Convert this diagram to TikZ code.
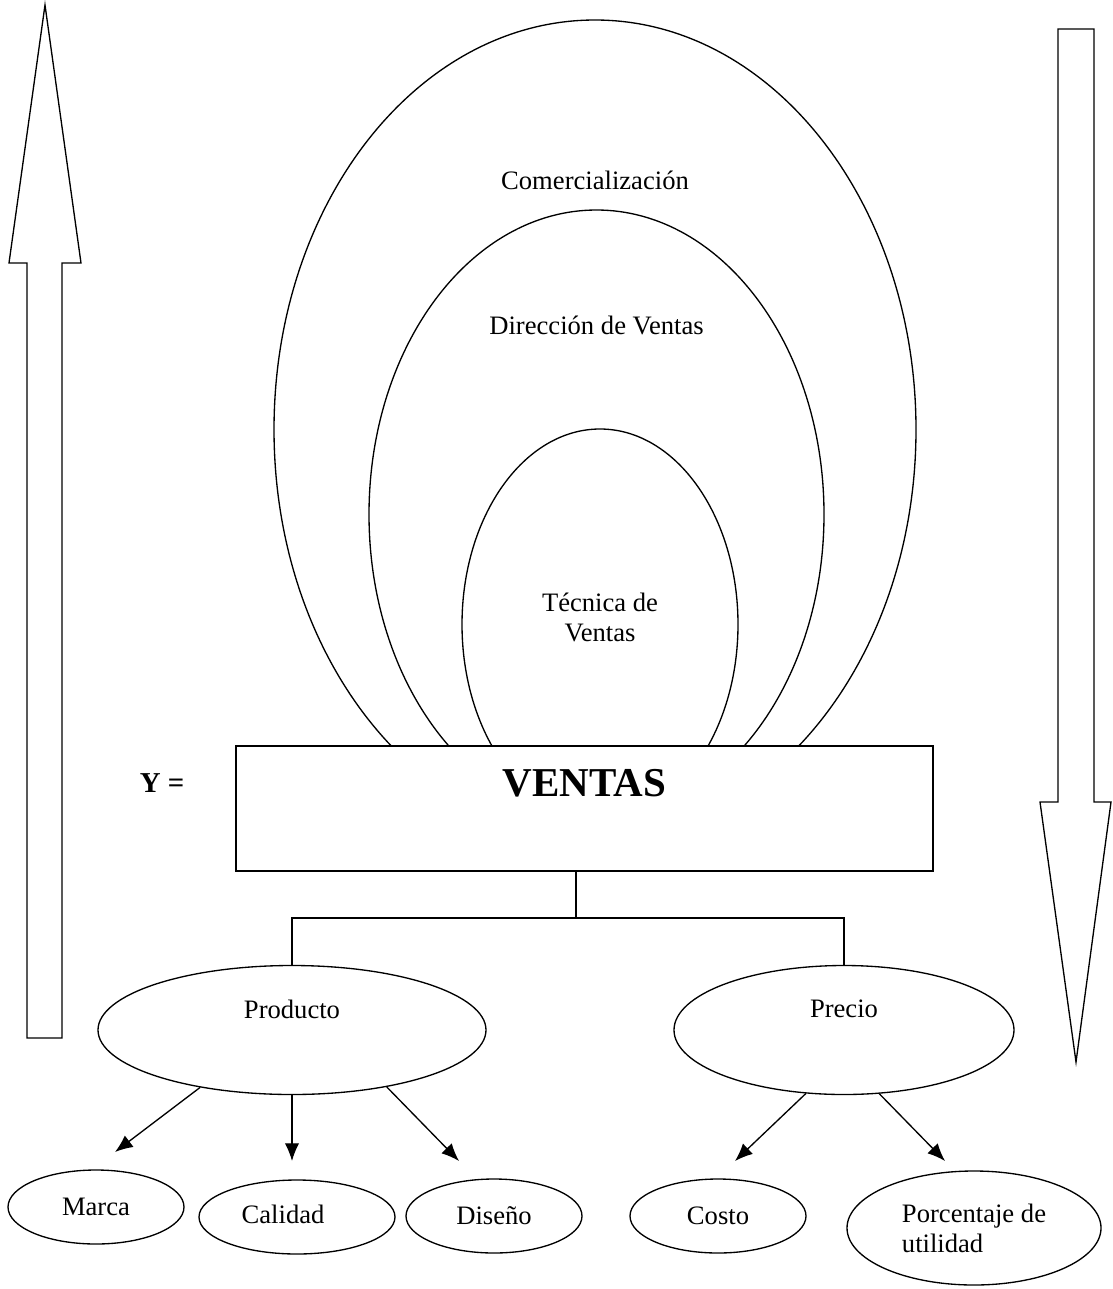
\documentclass[tikz,border=0pt]{standalone}
\usepackage{fontspec}
\setmainfont{Liberation Serif}
\usetikzlibrary{shapes.geometric,arrows.meta}

\begin{document}
\begin{tikzpicture}[x=0.451pt, y=-0.451pt, line width=0.6pt,
    font=\fontsize{12}{13.5}\selectfont,
    oval/.style 2 args={ellipse, draw, inner sep=0pt, minimum width=#1*0.902pt, minimum height=#2*0.902pt},
    box/.style 2 args={draw, fill=white, inner sep=0pt, minimum width=#1*0.451pt, minimum height=#2*0.451pt},
    arr/.style={-{Latex[length=8pt,width=6.5pt]}}]
    \useasboundingbox (0,0) rectangle (1113,1289);

    % big arrows at the sides
    \draw (27,1038) -- (27,263) -- (9,263) -- (45,5) -- (81,263) -- (62,263) -- (62,1038) -- cycle;
    \draw (1058,29) -- (1094,29) -- (1094,802) -- (1111,802) -- (1076,1062) -- (1040,802) -- (1058,802) -- cycle;

    % nested ellipses
    \node (com) [oval={321}{409.5}, label={[yshift=112.5pt]center:Comercialización}] at (595,429.5) {};
    \node (dir) [oval={227.5}{304.4}, label={[yshift=85pt]center:Dirección de Ventas}] at (596.5,514.4) {};
    \node (tec) [oval={138}{195.4}, label={[yshift=3.3pt,align=center]center:Técnica de\\Ventas}] at (600,624.4) {};

    \node (y) at (162,783) {\fontsize{13}{15}\selectfont\bfseries Y =};
    \node (ventas) [box={697}{125}, label={[yshift=11.5pt]center:\fontsize{18.5}{22}\selectfont\bfseries VENTAS}] at (584.5,808.5) {};

    % second level
    \node (prod) [oval={194}{64.5}, label={[yshift=9.5pt]center:Producto}] at (292,1030) {};
    \node (prec) [oval={170}{64.5}, label={[yshift=9.5pt]center:Precio}] at (844,1030) {};
    \coordinate (junc) at (576,918);
    \draw (ventas.south -| junc) -- (junc);
    \draw (prod.north) |- (junc) -| (prec.north);

    % bottom row
    \node (marca) [oval={88}{37}] at (96,1207) {Marca};
    \node (cal) [oval={98}{37}, label={[xshift=-6.3pt,yshift=1.4pt]center:Calidad}] at (297,1217) {};
    \node (dis) [oval={88}{37}] at (494,1216) {Diseño};
    \node (costo) [oval={88}{37}] at (718,1216) {Costo};
    \node (porc) [oval={127}{57}, align=left] at (974,1228) {Porcentaje de\\utilidad};

    \coordinate (tmarca) at (115,1152);
    \coordinate (tcal) at (292,1161);
    \coordinate (tdis) at (459,1161);
    \coordinate (tcosto) at (735,1161);
    \coordinate (tporc) at (945,1161);
    \draw[arr] (prod.212) -- (tmarca);
    \draw[arr] (prod.south) -- (tcal);
    \draw[arr] (prod.329) -- (tdis);
    \draw[arr] (prec.239) -- (tcosto);
    \draw[arr] (prec.299) -- (tporc);
\end{tikzpicture}
\end{document}
